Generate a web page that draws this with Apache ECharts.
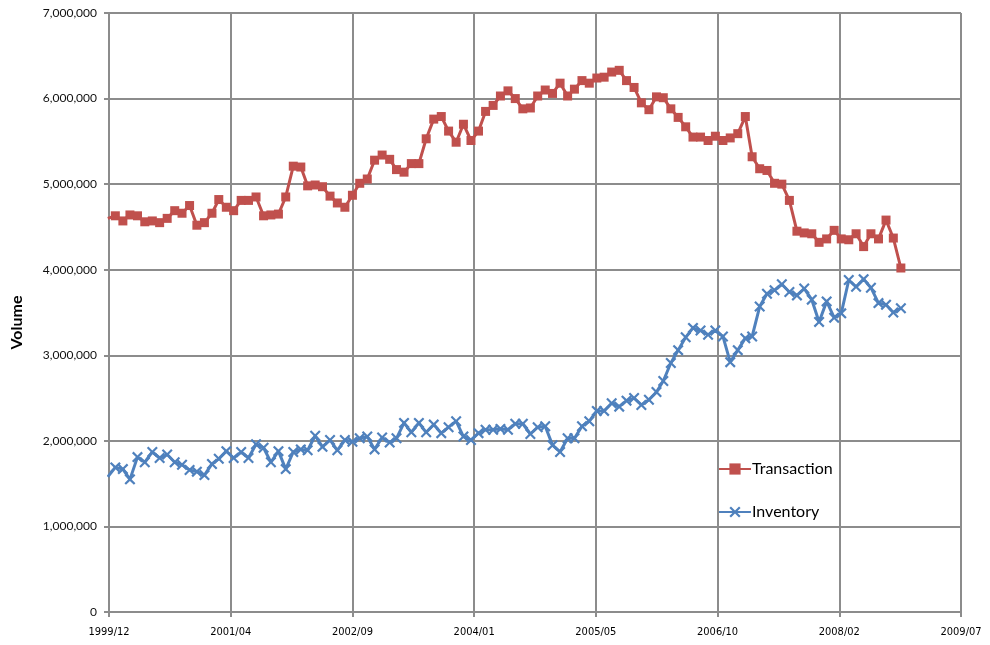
<!DOCTYPE html>
<html>
<head>
<meta charset="utf-8">
<script src="https://cdn.jsdelivr.net/npm/echarts@6/dist/echarts.min.js"></script>
<style>
  html, body { margin: 0; padding: 0; background: #fff; }
  #main { width: 990px; height: 645px; }
</style>
</head>
<body>
<div id="main"></div>
<script>
// monthly observations, first one is 1999/12
var firstYear = 1999, firstMonth = 12;

var transaction = [
    4600000, 4630000, 4570000, 4640000, 4630000, 4560000, 4570000, 4550000, 4600000, 4690000,
    4660000, 4750000, 4520000, 4550000, 4660000, 4820000, 4730000, 4690000, 4810000, 4810000,
    4850000, 4630000, 4640000, 4650000, 4850000, 5210000, 5200000, 4980000, 4990000, 4970000,
    4860000, 4780000, 4730000, 4870000, 5010000, 5060000, 5280000, 5340000, 5290000, 5170000,
    5140000, 5240000, 5240000, 5530000, 5760000, 5790000, 5620000, 5490000, 5700000, 5510000,
    5620000, 5850000, 5920000, 6030000, 6090000, 6000000, 5880000, 5890000, 6030000, 6100000,
    6060000, 6180000, 6030000, 6110000, 6210000, 6180000, 6240000, 6250000, 6310000, 6330000,
    6210000, 6130000, 5950000, 5870000, 6020000, 6010000, 5880000, 5780000, 5670000, 5550000,
    5550000, 5510000, 5560000, 5510000, 5540000, 5590000, 5790000, 5320000, 5180000, 5160000,
    5010000, 5000000, 4810000, 4450000, 4430000, 4420000, 4320000, 4360000, 4460000, 4360000,
    4350000, 4420000, 4270000, 4420000, 4360000, 4580000, 4370000, 4020000
];

var inventory = [
    1580000, 1690000, 1670000, 1550000, 1810000, 1750000, 1870000, 1800000, 1840000, 1750000,
    1720000, 1660000, 1640000, 1600000, 1730000, 1790000, 1880000, 1800000, 1870000, 1800000,
    1960000, 1920000, 1750000, 1880000, 1670000, 1870000, 1900000, 1890000, 2060000, 1930000,
    2010000, 1890000, 2010000, 1990000, 2030000, 2050000, 1900000, 2040000, 1980000, 2030000,
    2210000, 2100000, 2210000, 2100000, 2190000, 2090000, 2160000, 2230000, 2050000, 2010000,
    2090000, 2130000, 2130000, 2140000, 2130000, 2200000, 2200000, 2080000, 2160000, 2170000,
    1950000, 1870000, 2030000, 2030000, 2170000, 2230000, 2350000, 2350000, 2440000, 2400000,
    2470000, 2500000, 2420000, 2480000, 2570000, 2700000, 2910000, 3060000, 3210000, 3320000,
    3290000, 3240000, 3290000, 3220000, 2920000, 3060000, 3200000, 3220000, 3570000, 3720000,
    3760000, 3830000, 3740000, 3700000, 3780000, 3650000, 3390000, 3630000, 3440000, 3490000,
    3880000, 3800000, 3890000, 3790000, 3610000, 3590000, 3500000, 3550000
];

// x axis is a plain date serial axis (days, Excel style): 36500 .. 40000 step 500
var xTickLabels = ['1999/12', '2001/04', '2002/09', '2004/01', '2005/05', '2006/10', '2008/02', '2009/07'];
var xMin = 36500, xStep = 500;

var EPOCH = Date.UTC(1899, 11, 30);
function monthSerial(i) {
    var m = firstMonth - 1 + i;
    var y = firstYear + Math.floor(m / 12);
    return (Date.UTC(y, m % 12, 1) - EPOCH) / 86400000;
}

function pairs(values) {
    return values.map(function (v, i) { return [monthSerial(i), v]; });
}

var crossPath = 'path://M0,1.4 L1.4,0 L5,3.6 L8.6,0 L10,1.4 L6.4,5 L10,8.6 L8.6,10 L5,6.4 L1.4,10 L0,8.6 L3.6,5 Z';

var gridColor = '#8c8c8c';

var myChart = echarts.init(document.getElementById('main'), null, { renderer: 'canvas' });

myChart.setOption({
    animation: false,
    textStyle: { fontFamily: 'Lato' },
    grid: { left: 109, right: 29, top: 13, bottom: 33 },
    legend: {
        orient: 'vertical',
        left: 718,
        top: 461,
        padding: 0,
        itemGap: 27,
        itemWidth: 32,
        itemHeight: 14,
        textStyle: { fontSize: 16, color: '#000', fontFamily: 'Lato', padding: [0, 0, 0, -4] },
        data: ['Transaction', 'Inventory']
    },
    xAxis: {
        type: 'value',
        min: xMin,
        max: xMin + xStep * (xTickLabels.length - 1),
        interval: xStep,
        axisLine: { show: true, onZero: false, lineStyle: { color: gridColor, width: 2 } },
        axisTick: { show: true, length: 5, lineStyle: { color: gridColor, width: 2 } },
        splitLine: { show: true, lineStyle: { color: gridColor, width: 2 } },
        axisLabel: {
            color: '#000',
            fontSize: 11,
            fontFamily: '"DejaVu Sans Condensed", "Liberation Sans", sans-serif',
            margin: 15,
            showMinLabel: true,
            showMaxLabel: true,
            formatter: function (v) {
                return xTickLabels[Math.round((v - xMin) / xStep)] || '';
            }
        }
    },
    yAxis: {
        type: 'value',
        min: 0,
        max: 7000000,
        interval: 1000000,
        name: 'Volume',
        nameLocation: 'middle',
        nameGap: 84,
        nameTextStyle: { fontSize: 16, fontWeight: 'bold', color: '#000', fontFamily: 'Lato', padding: [0, 20, 0, 0] },
        axisLine: { show: true, onZero: false, lineStyle: { color: gridColor, width: 2 } },
        axisTick: { show: true, length: 5, lineStyle: { color: gridColor, width: 2 } },
        splitLine: { show: true, lineStyle: { color: gridColor, width: 2 } },
        axisLabel: {
            color: '#111',
            fontSize: 12,
            margin: 12,
            formatter: function (v) { return v.toLocaleString('en-US'); }
        }
    },
    series: [
        {
            name: 'Transaction',
            type: 'line',
            data: pairs(transaction),
            symbol: 'rect',
            symbolSize: 9,
            showAllSymbol: true,
            color: '#C0504D',
            lineStyle: { width: 3, color: '#C0504D' },
            itemStyle: { color: '#C0504D' }
        },
        {
            name: 'Inventory',
            type: 'line',
            data: pairs(inventory),
            symbol: crossPath,
            symbolSize: 11,
            showAllSymbol: true,
            color: '#4F81BD',
            lineStyle: { width: 3, color: '#4F81BD' },
            itemStyle: { color: '#4F81BD' }
        }
    ]
});
</script>
</body>
</html>
